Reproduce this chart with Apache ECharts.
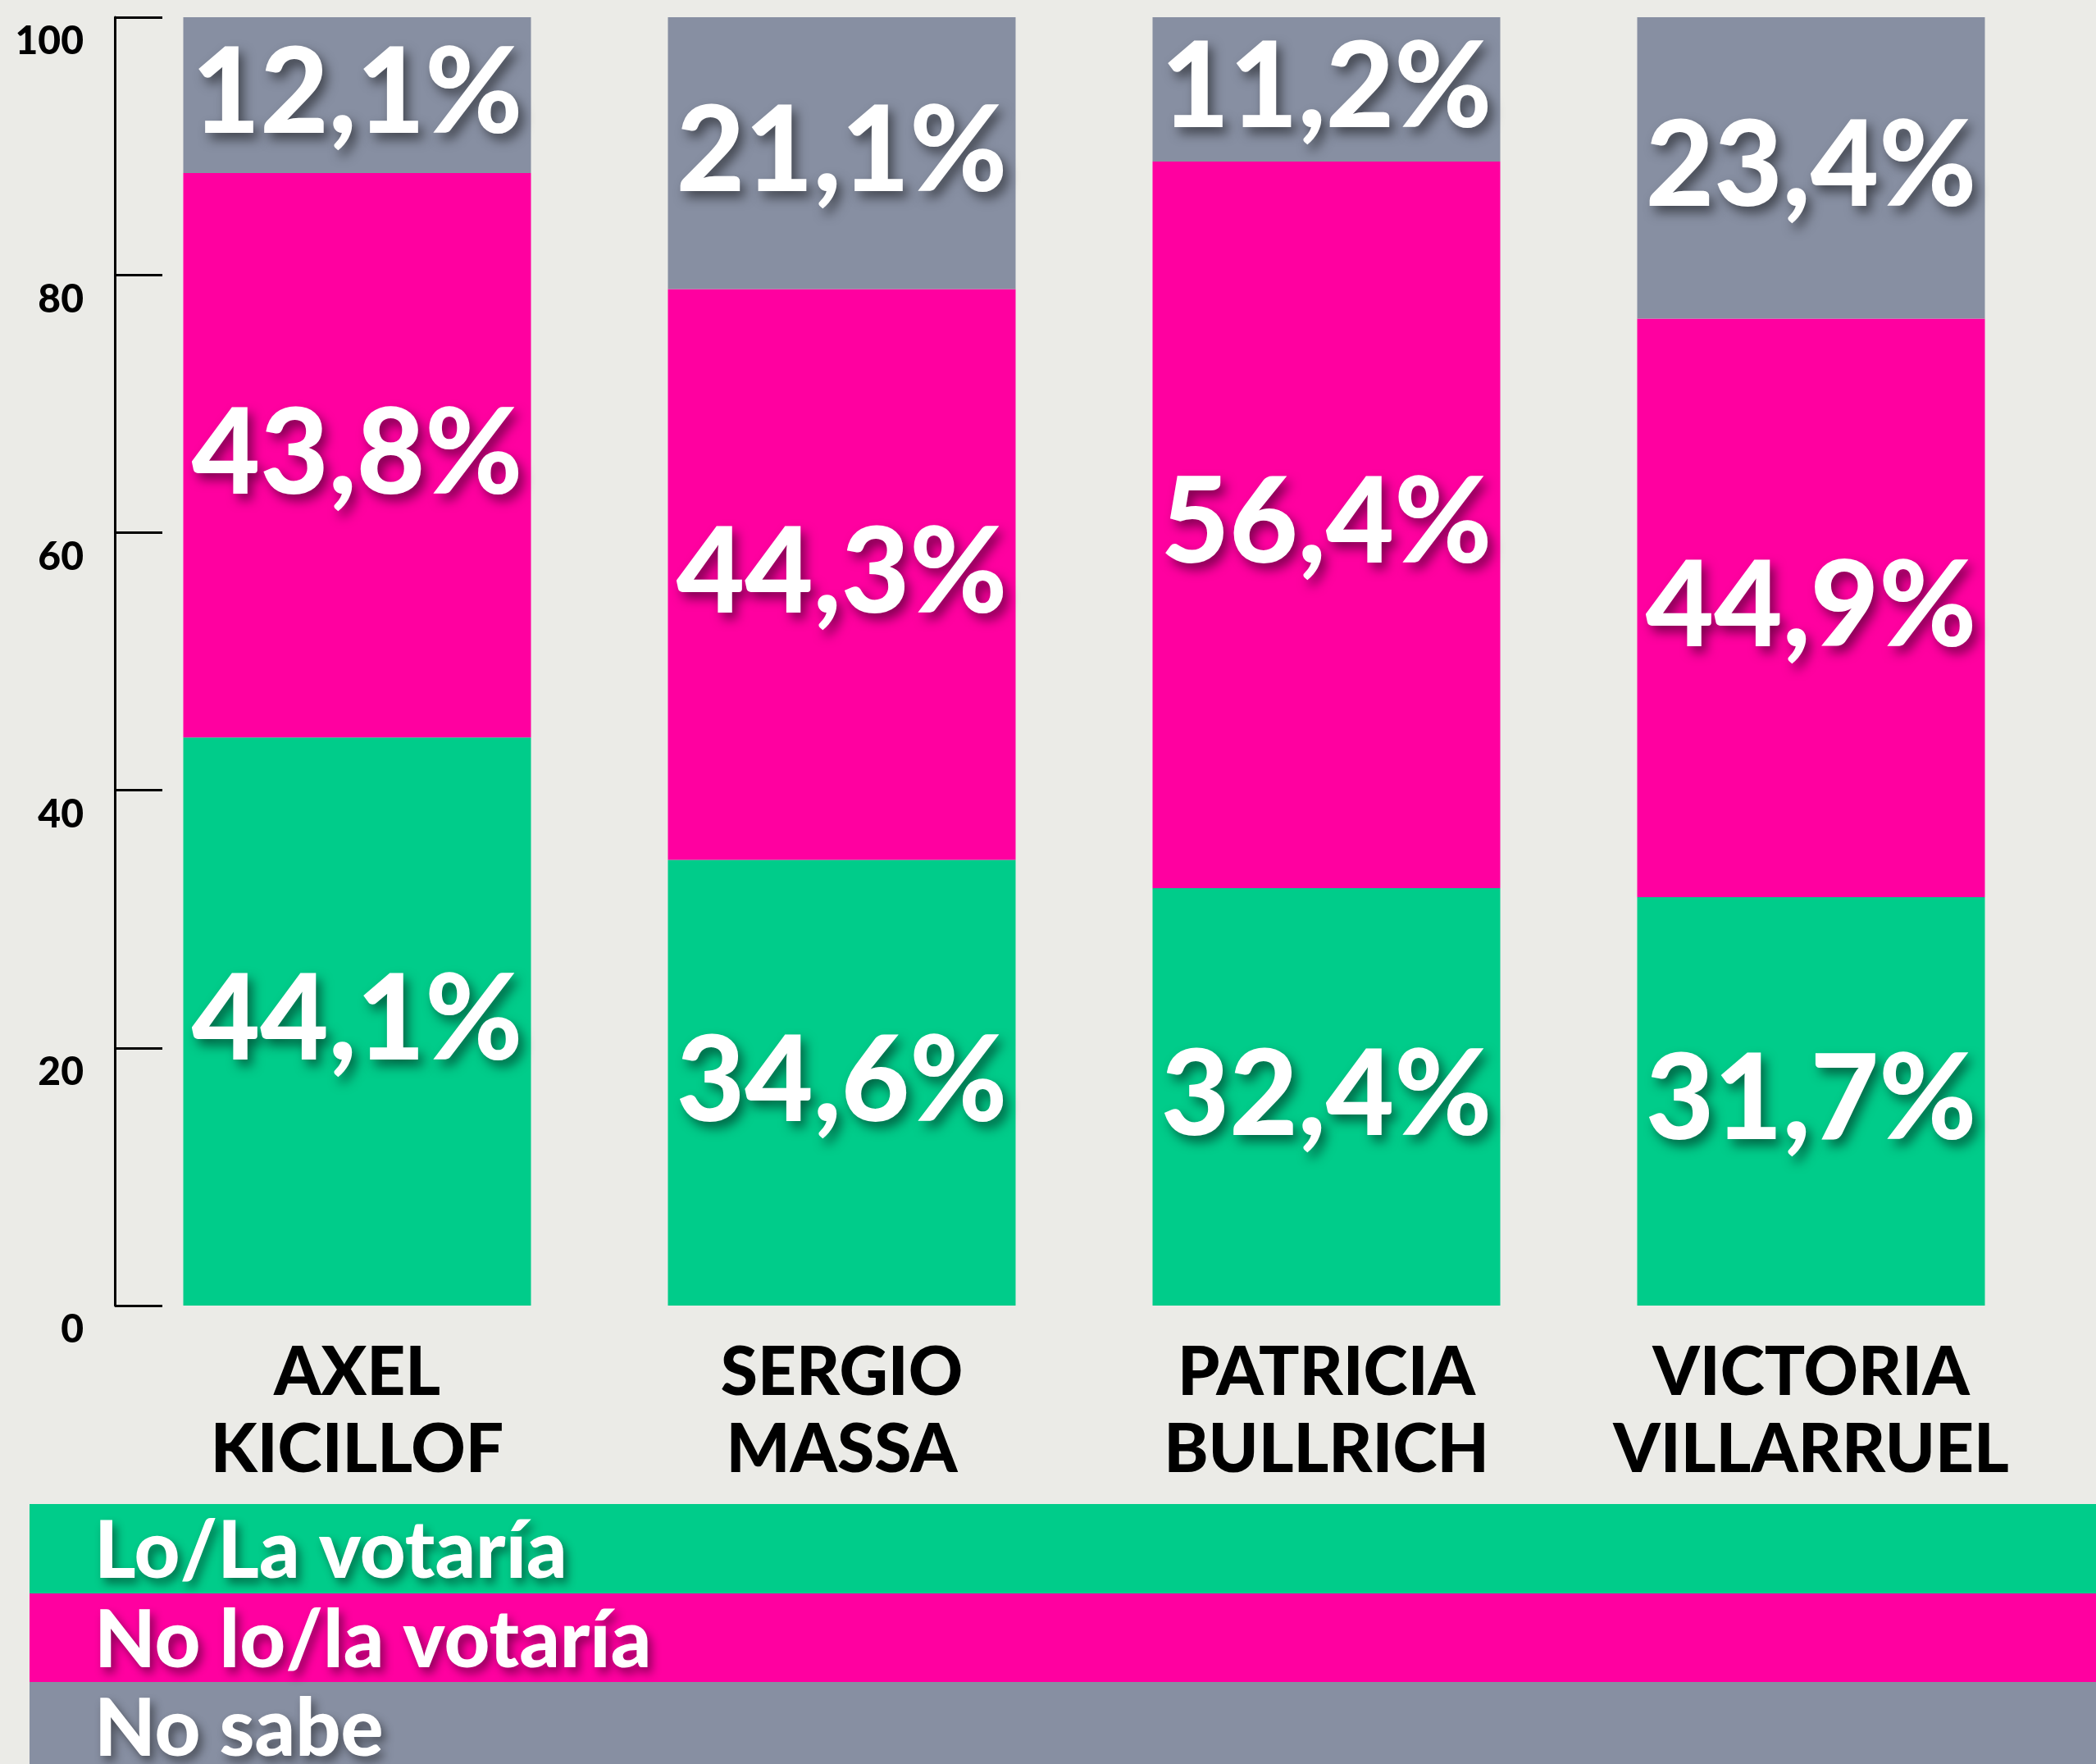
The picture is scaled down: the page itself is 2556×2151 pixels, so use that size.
<!DOCTYPE html>
<html>
<head>
<meta charset="utf-8">
<script src="https://cdn.jsdelivr.net/npm/echarts@6/dist/echarts.min.js"></script>
<style>
html,body{margin:0;padding:0;background:#EBEBE7;}
#c{width:2556px;height:2151px;}
</style>
</head>
<body>
<div id="c"></div>
<script>
const categories = ['AXEL\nKICILLOF', 'SERGIO\nMASSA', 'PATRICIA\nBULLRICH', 'VICTORIA\nVILLARRUEL'];
const seriesNames = ['Lo/La votaría', 'No lo/la votaría', 'No sabe'];
const votaria = [44.1, 34.6, 32.4, 31.7];
const noVotaria = [43.8, 44.3, 56.4, 44.9];
const noSabe = [12.1, 21.1, 11.2, 23.4];
const yTicks = [0, 20, 40, 60, 80, 100];

const colors = ['#00CC8A', '#FF00A0', '#878FA2'];
const FONT = 'Lato, "Noto Sans", sans-serif';

const chart = echarts.init(document.getElementById('c'), null, {renderer: 'canvas'});

function fmt(v) { return v.toFixed(1).replace('.', ',') + '%'; }

const valueLabel = {
  show: true,
  position: 'inside',
  color: '#fff',
  fontFamily: FONT,
  fontWeight: 900,
  fontSize: 144,
  textShadowColor: 'rgba(0,0,0,0.5)',
  textShadowBlur: 14,
  textShadowOffsetX: 6,
  textShadowOffsetY: 8,
  formatter: p => fmt(p.value)
};

const data = [votaria, noVotaria, noSabe];

const legendBands = [];
const bandY = [1834, 1943, 2051];
const bandH = [109, 108, 100];
seriesNames.forEach((n, i) => {
  legendBands.push({
    type: 'rect', left: 36, top: bandY[i], z: 10,
    shape: {width: 2520, height: bandH[i]},
    style: {fill: colors[i]}
  });
  legendBands.push({
    type: 'text', left: 115, top: bandY[i] + 10, z: 11,
    style: {
      text: n, fill: '#fff', font: '900 97px ' + FONT,
      textShadowColor: 'rgba(0,0,0,0.45)', textShadowBlur: 12,
      textShadowOffsetX: 5, textShadowOffsetY: 7
    }
  });
});

chart.setOption({
  backgroundColor: '#EBEBE7',
  animation: false,
  grid: {left: 140, top: 21, width: 2364, bottom: 559, containLabel: false},
  xAxis: {
    type: 'category',
    data: categories,
    axisLine: {show: false},
    axisTick: {show: false},
    axisLabel: {
      color: '#000', fontFamily: FONT, fontWeight: 900, fontSize: 82,
      lineHeight: 94, margin: 36, interval: 0
    }
  },
  yAxis: {
    type: 'value', min: 0, max: 100, interval: 20,
    splitLine: {show: false},
    axisLine: {show: true, lineStyle: {color: '#000', width: 3}},
    axisTick: {show: true, inside: true, length: 58, lineStyle: {color: '#000', width: 3}},
    axisLabel: {
      color: '#000', fontFamily: FONT, fontWeight: 900, fontSize: 48,
      margin: 38, verticalAlign: 'top', padding: [6, 0, 0, 0],
      formatter: v => yTicks.includes(v) ? String(v) : ''
    }
  },
  series: seriesNames.map((n, i) => ({
    name: n,
    type: 'bar',
    stack: 'total',
    barWidth: 424,
    data: data[i],
    itemStyle: {color: colors[i]},
    label: valueLabel
  })),
  graphic: legendBands
});
</script>
</body>
</html>
